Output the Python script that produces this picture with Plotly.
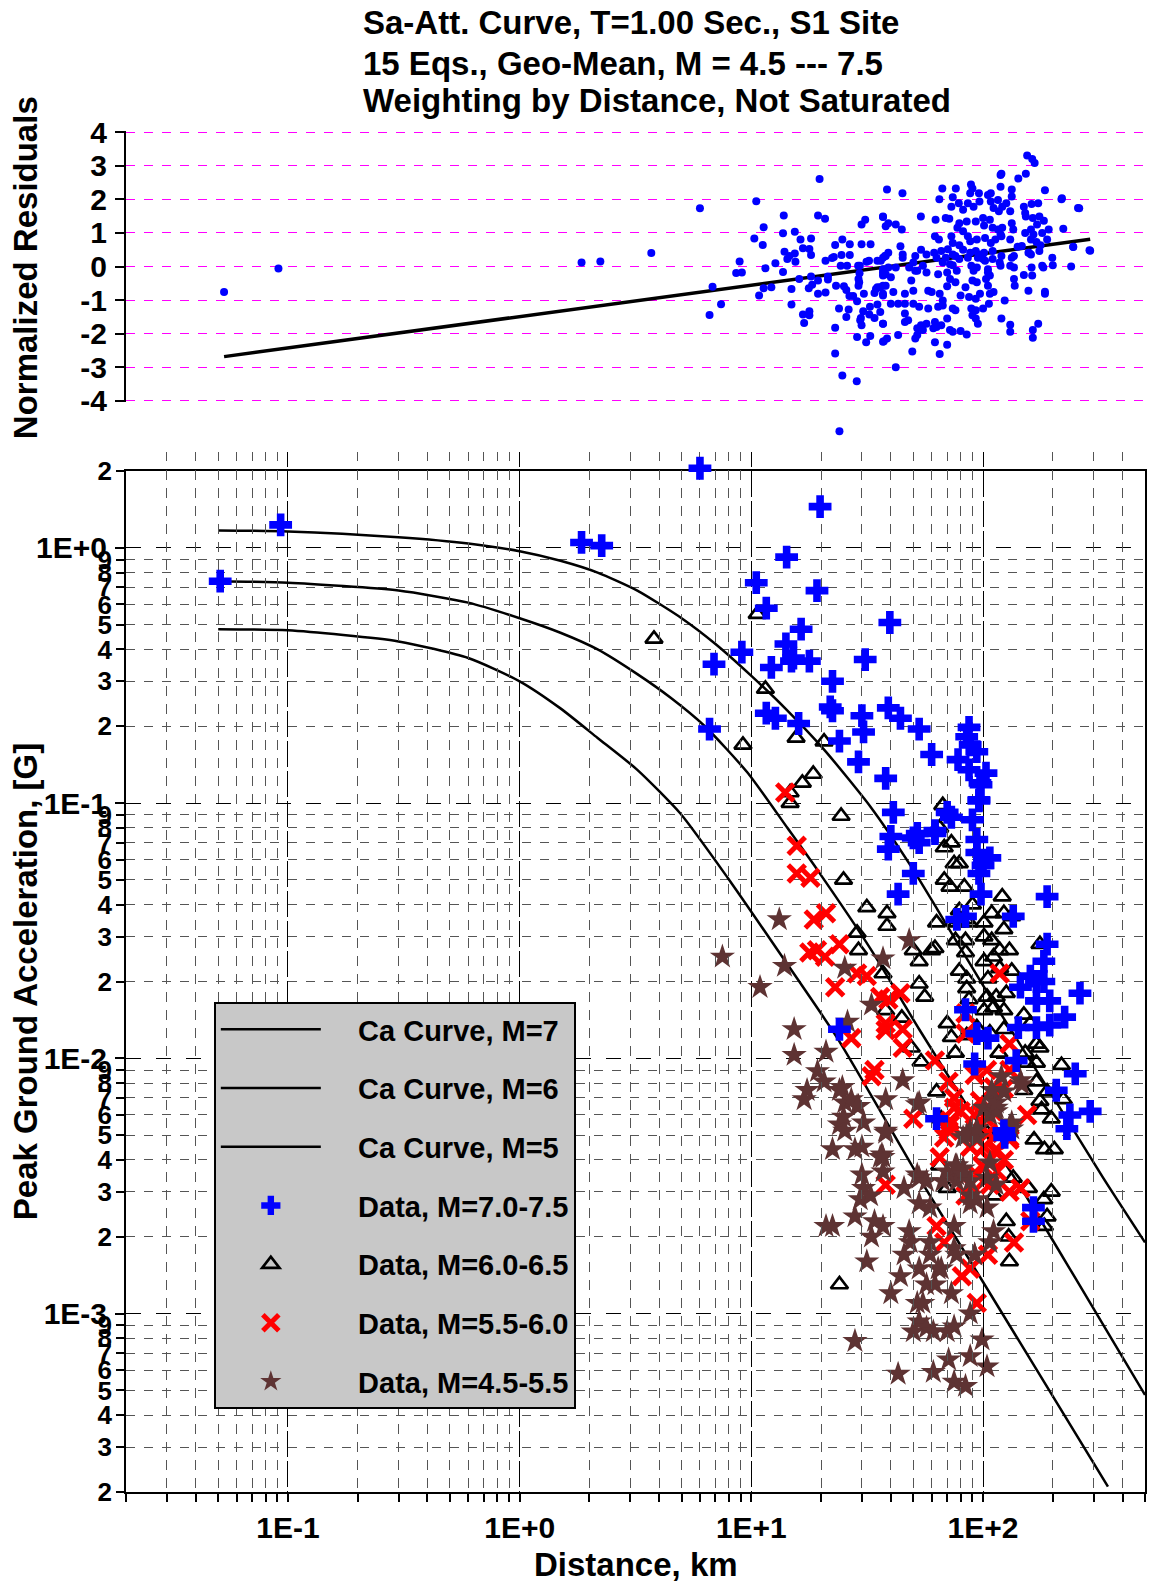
import math
import plotly.graph_objects as go

# ---------------- text ----------------
title_lines = ["Sa-Att. Curve, T=1.00 Sec., S1 Site",
               "15 Eqs., Geo-Mean, M = 4.5 --- 7.5",
               "Weighting by Distance, Not Saturated"]
x_title = "Distance, km"
y_title_top = "Normalized Residuals"
y_title_bottom = "Peak Ground Acceleration, [G]"

legend_names = ["Ca Curve, M=7", "Ca Curve, M=6", "Ca Curve, M=5",
                "Data, M=7.0-7.5", "Data, M=6.0-6.5", "Data, M=5.5-6.0", "Data, M=4.5-5.5"]
LEGEND_PAD = "\u00a0" * 4

# ---------------- tick labels ----------------
x_major_vals = [0.1, 1, 10, 100]
x_major_text = ["1E-1", "1E+0", "1E+1", "1E+2"]
y_major_vals = [1, 0.1, 0.01, 0.001]
y_major_text = ["1E+0", "1E-1", "1E-2", "1E-3"]
digits = [2, 3, 4, 5, 6, 7, 8, 9]
x_minor_vals = [d * 10.0 ** e for e in (-2, -1, 0, 1, 2) for d in digits if d * 10.0 ** e <= 500]
y_minor_vals = [d * 10.0 ** e for e in (-4, -3, -2, -1, 0) for d in digits if 2e-4 <= d * 10.0 ** e <= 2]
y_minor_text = [str(int(round(v / 10.0 ** math.floor(math.log10(v) + 1e-9)))) for v in y_minor_vals]
res_ticks = [4, 3, 2, 1, 0, -1, -2, -3, -4]
res_tick_text = ["4", "3", "2", "1", "0", "-1", "-2", "-3", "-4"]

# ---------------- attenuation curves (distance km, PGA g) ----------------
m7_dist = [0.05, 0.1, 0.3, 0.6, 1.0, 1.5, 2.17, 3.22, 5.0, 7.0, 10, 14, 20.6, 32.6, 48.6, 65, 100, 200, 330, 500]
m7_pga = [1.17, 1.16, 1.10, 1.04, 0.97, 0.89, 0.80, 0.68, 0.53, 0.42, 0.315, 0.235, 0.162, 0.097, 0.057, 0.037,
          0.0193, 0.0071, 0.0034, 0.0019]
m6_dist = [0.05, 0.1, 0.3, 0.6, 1.0, 1.5, 2.17, 3.22, 4.5, 6.3, 9.6, 14.3, 19.2, 33, 53, 100, 140, 250, 500]
m6_pga = [0.74, 0.73, 0.68, 0.61, 0.53, 0.465, 0.40, 0.32, 0.258, 0.200, 0.132, 0.080, 0.055, 0.0265, 0.0130,
          0.0052, 0.0033, 0.00138, 0.00048]
m5_dist = [0.05, 0.1, 0.3, 0.6, 1.0, 1.5, 2.17, 3.22, 4.94, 7.9, 13, 23.5, 53, 100, 346]
m5_pga = [0.48, 0.475, 0.43, 0.37, 0.30, 0.235, 0.18, 0.135, 0.091, 0.051, 0.0265, 0.012, 0.0034, 0.00133,
          0.00021]

# ---------------- data points (distance km, PGA g) ----------------
data_m70_75 = [
    (0.051, 0.74), (0.093, 1.23), (1.85, 1.05), (2.26, 1.02), (6.0, 2.05), (19.8, 1.45), (14.2, 0.92),
    (10.5, 0.73), (19.2, 0.68), (11.6, 0.58), (39.6, 0.51), (16.4, 0.48), (14.1, 0.42), (9.1, 0.39),
    (15.2, 0.37), (17.8, 0.36), (14.9, 0.36), (31, 0.365), (6.9, 0.35), (12.2, 0.34), (22.4, 0.30),
    (21.9, 0.238), (22.4, 0.23), (11.6, 0.225), (12.7, 0.215), (30, 0.22), (39, 0.236), (44, 0.215),
    (16, 0.205), (6.6, 0.195), (53, 0.195), (30.5, 0.19), (24, 0.175), (60, 0.155), (29, 0.145),
    (38, 0.125), (41, 0.092), (40, 0.074), (50, 0.073), (53, 0.07), (39, 0.066), (50, 0.053), (62, 0.078),
    (98, 0.118), (96, 0.102), (73, 0.088), (70, 0.092), (52, 0.076), (62, 0.076), (94, 0.072), (94, 0.064),
    (107, 0.061), (100, 0.057), (96, 0.053), (43, 0.044), (98, 0.044), (189, 0.043), (84, 0.036),
    (77, 0.035), (135, 0.036), (189, 0.028), (183, 0.024), (160, 0.021), (170, 0.020), (145, 0.019),
    (183, 0.020), (262, 0.018), (194, 0.0168), (170, 0.0168), (225, 0.0145), (194, 0.0135), (170, 0.0132),
    (84, 0.0155), (94, 0.0125), (105, 0.012), (142, 0.0132), (24, 0.013), (250, 0.0087), (139, 0.0098),
    (207, 0.0075), (290, 0.0062), (237, 0.006), (230, 0.0053), (63, 0.0058), (123, 0.0052), (92, 0.0095),
    (124, 0.0049), (165, 0.0026), (165, 0.0023),
    (87, 0.198), (85, 0.182), (88, 0.169), (94, 0.159), (78, 0.148), (87, 0.135), (103, 0.131),
    (97, 0.12), (96, 0.103), (90, 0.086)]

data_m60_65 = [
    (3.8, 0.44), (10.6, 0.55), (11.5, 0.28), (9.2, 0.169), (15.6, 0.18), (20.6, 0.174), (18.5, 0.13),
    (16.6, 0.12), (14.7, 0.11), (14.7, 0.1), (24.4, 0.089), (25, 0.05), (62, 0.078),
    (67, 0.098), (65, 0.08), (73, 0.07), (68, 0.067), (75, 0.058), (79, 0.058), (68, 0.05), (72, 0.047),
    (83, 0.047), (31.5, 0.039), (38.5, 0.037), (38.5, 0.033), (63, 0.034), (121, 0.043), (90, 0.04),
    (79, 0.038), (80, 0.035), (84, 0.035), (87, 0.034), (77, 0.034), (109, 0.037), (123, 0.037),
    (133, 0.036), (123, 0.032), (101, 0.034), (28.6, 0.031), (29, 0.0265), (50, 0.0265), (53, 0.024),
    (62, 0.027), (76, 0.029), (84, 0.029), (101, 0.03), (109, 0.029), (84, 0.026), (118, 0.0265),
    (130, 0.0265), (176, 0.028), (101, 0.024), (111, 0.025), (37, 0.0215), (79, 0.022), (85, 0.0205),
    (105, 0.0205), (118, 0.0225), (133, 0.022), (53, 0.0196), (56, 0.0174), (85, 0.0188), (87, 0.017),
    (104, 0.0174), (114, 0.0174), (126, 0.018), (38, 0.0154), (44.6, 0.0144), (70, 0.0137), (101, 0.0154),
    (111, 0.0158), (123, 0.0154), (150, 0.0148), (160, 0.0137), (94, 0.0132), (107, 0.0126), (123, 0.013),
    (85, 0.0123), (73, 0.0121), (49, 0.011), (54, 0.0097), (76, 0.0105), (117, 0.0105), (152, 0.0105),
    (170, 0.0114), (155, 0.0096), (170, 0.0096), (176, 0.011), (218, 0.0094), (170, 0.0081), (189, 0.0074),
    (150, 0.0075), (176, 0.0068), (222, 0.0069), (179, 0.0063), (197, 0.0058), (63, 0.0074), (66, 0.0058),
    (166, 0.0048), (184, 0.0044), (203, 0.0044), (65, 0.0038),
    (104, 0.0051), (135, 0.0034), (157, 0.0031), (197, 0.003), (70, 0.0031), (112, 0.0029), (183, 0.0028),
    (189, 0.0024), (184, 0.0022), (126, 0.0023), (129, 0.002), (130, 0.0016), (24, 0.0013), (60, 0.0265)]

data_m55_60 = [
    (14, 0.11), (15.7, 0.068), (15.7, 0.053), (18, 0.051), (18.6, 0.035), (21, 0.037), (17.8, 0.026),
    (19.2, 0.0265), (20.8, 0.025), (24, 0.028), (23, 0.019), (28.6, 0.0215), (31.5, 0.021), (36, 0.0174),
    (39, 0.017), (44, 0.018), (38, 0.0137), (38, 0.0129), (45, 0.013), (27, 0.012), (45, 0.011), (34, 0.009),
    (33, 0.0085), (50, 0.0058), (62, 0.0098),
    (118, 0.0215), (84, 0.015), (84, 0.0125), (130, 0.0114), (104, 0.009), (92, 0.0086), (130, 0.009),
    (71, 0.0081), (75, 0.007), (111, 0.0077), (123, 0.0076), (155, 0.006), (92, 0.006), (101, 0.0059),
    (72, 0.0057), (71, 0.0052), (94, 0.0052), (105, 0.0051), (130, 0.0049), (101, 0.0045), (114, 0.0044),
    (65, 0.0041), (107, 0.004), (72, 0.0055), (75, 0.0064), (68, 0.0049), (130, 0.0048), (114, 0.0043),
    (123, 0.004), (94, 0.0035), (88, 0.0032), (101, 0.0033), (107, 0.0032), (84, 0.0029), (130, 0.003),
    (145, 0.0031), (38, 0.0032), (63, 0.0022), (68, 0.0019), (105, 0.0017), (88, 0.0015), (81, 0.0014),
    (94, 0.0011), (160, 0.0023), (136, 0.0019), (97, 0.0068), (110, 0.0062), (88, 0.0045), (99, 0.0038),
    (115, 0.0036), (80, 0.0062)]

data_m45_55 = [
    (13.2, 0.035), (7.5, 0.025), (13.9, 0.023), (10.9, 0.019), (15.3, 0.013), (15.3, 0.0103), (21, 0.0106),
    (19.3, 0.0089), (20.6, 0.0081), (17.4, 0.0075), (16.9, 0.0069), (24.7, 0.0077), (25.3, 0.0067),
    (29, 0.0065), (30.5, 0.0056), (24, 0.0055), (25.3, 0.0052), (38, 0.0051), (45, 0.0082), (53, 0.0067),
    (26, 0.0139), (33, 0.0162), (37, 0.0246), (48, 0.029), (22.4, 0.0044), (28, 0.0044), (36.6, 0.0042),
    (37, 0.0036), (30, 0.0035), (52, 0.0035), (25.3, 0.0226),
    (37, 0.0041), (30.5, 0.0031), (29.5, 0.0028), (32.7, 0.0029), (28, 0.0024), (34, 0.0023), (37, 0.0022),
    (22.4, 0.0022), (33, 0.002), (45.6, 0.0031), (53, 0.0034), (57, 0.0033), (77, 0.0035), (82, 0.0037),
    (53, 0.0027), (59, 0.0026), (48, 0.0021), (48.5, 0.0019), (31.5, 0.0016), (45.6, 0.0017), (59, 0.0017),
    (75, 0.0018), (92, 0.0017), (44, 0.0014), (53, 0.0015), (64, 0.0015), (40, 0.0012), (57, 0.0013),
    (62, 0.0013), (52, 0.0011), (55, 0.0011), (73, 0.0012), (88, 0.001), (53, 0.00093), (50, 0.00085),
    (57, 0.00088), (61, 0.00085), (70, 0.00085), (75, 0.00089), (99, 0.00079), (28, 0.00078), (71, 0.00066),
    (88, 0.00068), (104, 0.00062), (43, 0.00058), (61, 0.00059), (75, 0.00054), (84, 0.00052),
    (101, 0.0064), (114, 0.0064), (107, 0.006), (88, 0.0052), (94, 0.0049), (107, 0.0039), (104, 0.0034),
    (67, 0.0033), (77, 0.0033), (88, 0.0029), (59, 0.0019), (94, 0.0028), (114, 0.0032),
    (24, 0.0075), (27, 0.0069), (28.6, 0.0065), (25, 0.0059), (38, 0.0069), (52, 0.0066), (38, 0.0052),
    (30, 0.0045), (36, 0.0041), (111, 0.0069), (114, 0.0062), (130, 0.0054), (82, 0.0049), (76, 0.0038),
    (70, 0.0036), (145, 0.0082), (133, 0.0056), (114, 0.0067), (123, 0.0074), (109, 0.0075), (133, 0.0053),
    (85, 0.005), (94, 0.0053), (77, 0.0038), (82, 0.0035), (88, 0.0033), (88, 0.0027), (104, 0.0026),
    (111, 0.0021), (107, 0.0019), (92, 0.0017), (77, 0.0017), (75, 0.0022), (66, 0.0015), (21, 0.0022),
    (147, 0.0079), (120, 0.0085)]

# ---------------- normalized residuals (distance km, residual) ----------------
residuals = [
    (0.053, -0.76), (0.091, -0.06), (1.85, 0.12), (2.23, 0.15), (3.7, 0.4), (6.0, 1.73), (6.6, -1.44),
    (6.8, -0.6), (7.4, -1.12), (10.5, 1.94), (9.1, -0.18), (24, -4.9),
    (19.7, 2.6), (13.8, 1.52), (19.4, 1.52), (20.8, 1.42), (11.3, 1.17), (10.3, 0.83), (11.2, 0.64),
    (13.7, 0.99), (15.4, 1.03), (16.3, 0.8), (18.1, 0.83), (16.7, 0.54), (17.8, 0.52), (13.9, 0.44),
    (15.4, 0.39), (14.3, 0.22), (14.6, 0.31), (15.5, 0.14), (18.1, 0.34), (12.7, 0.1), (11.5, -0.05),
    (8.9, 0.15), (8.6, -0.19), (13.7, -0.16), (16.1, -0.37), (18.1, -0.30), (19.4, -0.42), (21.4, -0.30),
    (21.4, -0.39), (23, 0.64), (24.7, 0.8), (26.6, 0.66), (29.9, 0.66), (32.7, 0.66), (24.5, 0.34),
    (26.6, 0.34), (22.3, 0.25), (22.7, 0.28), (20.9, 0.17), (24.3, 0.02), (25.9, 0.02), (28.9, 0.02),
    (29.4, 0.02), (31.4, 0.14), (32.2, 0.17), (36.2, 0.17), (37.7, 0.31), (37, 1.47), (29.9, 1.25),
    (31, 1.39), (10.8, -0.86), (11.3, -0.65), (12.2, -0.62), (14.9, -0.67), (14.9, -1.13),
    (17.7, -0.65), (18.3, -0.54), (19.4, -0.81), (20.9, -0.77), (16.7, -1.43), (17.8, -1.33), (17.8, -1.45),
    (16.9, -1.68), (23, -1.82), (23, -2.59), (24.7, -3.24), (28.5, -3.41), (23.2, -0.57), (25.1, -0.59),
    (25.7, -0.7), (23.9, -1.25), (25.7, -1.5), (26.3, -1.28), (26.5, -0.88), (27.5, -0.88), (28.6, -1.03),
    (29, -0.37), (29.2, -0.47), (29, -0.57), (29.3, -0.2), (30.6, -0.81), (30.4, -1.33), (29.7, -1.53),
    (29.5, -1.6), (29.9, -1.75), (28.6, -2.1), (31.3, -2.25), (32.6, -2.07), (32.3, -1.43), (32.5, -1.2),
    (34, -1.53), (34, -0.79), (35, -1.13), (34.5, -0.67), (36, -0.62), (37, -1.7), (37.3, -2.22), (37, -0.18),
    (155, 3.3), (163, 3.2), (167, 3.08), (119, 2.72), (120, 2.76), (153, 2.76), (142, 2.62), (38.5, 2.29),
    (44.9, 2.18), (66.7, 2.32), (76.3, 2.32), (88.7, 2.44), (90, 2.32), (88, 2.18), (96, 2.18), (108, 2.18),
    (105, 2.13), (119, 2.37), (133, 2.29), (133, 2.08), (116, 1.98), (126, 1.88), (185, 2.27), (219, 2.03),
    (257, 1.74), (64.8, 2.0), (74, 2.06), (73, 1.78), (78.6, 1.88), (86, 1.88), (82, 1.69), (91, 1.78),
    (96.5, 1.93), (108, 1.93), (111, 1.74), (117, 1.64), (121, 1.78), (131, 1.64), (150, 1.78), (162, 1.86),
    (173, 1.88), (152, 1.59), (164, 1.44), (175, 1.49), (183, 1.36), (53.9, 1.49), (62.4, 1.39), (69, 1.44),
    (71.5, 1.42), (79, 1.29), (85, 1.34), (77.5, 1.15), (82, 1.05), (93, 1.34), (100, 1.44), (107, 1.39),
    (101, 1.22), (110, 1.15), (116, 1.1), (121, 1.15), (119, 0.95), (133, 1.29), (135, 1.1), (153, 1.49),
    (161, 1.1), (165, 0.95), (171, 1.25), (180, 1.0), (192, 1.1), (222, 1.12), (37, 1.49), (38, 1.2),
    (39, 1.29), (42, 1.25), (44.6, 1.1), (62, 0.9), (64.5, 0.8), (73, 0.9), (86, 0.9), (74, 0.7), (79, 0.63),
    (88, 0.75), (94, 0.8), (102, 0.85), (108, 0.7), (113, 0.8), (120, 0.9), (131, 0.8), (152, 1.0),
    (161, 0.8), (170, 0.73), (177, 0.63), (189, 0.8), (245, 0.59), (44, 0.6), (54, 0.5), (61.5, 0.41),
    (66, 0.46), (70.5, 0.51), (74, 0.36), (82, 0.5), (88, 0.41), (93, 0.46), (96, 0.36), (101, 0.41),
    (110, 0.46), (110, 0.22), (120, 0.31), (141, 0.59), (147, 0.61), (158, 0.41), (161, 0.36), (175, 0.46),
    (39, 0.41), (37, 0.26), (35, 0.17), (38, 0.31), (45, 0.36), (45, 0.26), (51, 0.31), (57, 0.36),
    (63, 0.26), (69, 0.26), (76, 0.31), (79, 0.22), (86, 0.26), (95, 0.26), (100, 0.22), (102, 0.17),
    (136, 0.31), (157, 0.41), (199, 0.26), (180, 0.02), (182, -0.03), (200, 0.04), (240, 0.0), (288, 0.48),
    (50, 0.12), (55, 0.02), (52, -0.13), (67, 0.12), (72, 0.07), (74, 0.04), (89, 0.02), (94, -0.03),
    (105, -0.08), (107, -0.27), (118, 0.12), (119, 0.02), (131, 0.02), (133, 0.26), (136, -0.03),
    (162, -0.03), (37, -0.08), (39, -0.03), (42, -0.03), (48, -0.03), (51, -0.13), (57, -0.18), (37, -0.27),
    (38, -0.23), (40, -0.32), (49, -0.42), (64, -0.23), (70, -0.18), (77, -0.13), (91, -0.13), (72, -0.37),
    (76, -0.47), (84, -0.62), (90, -0.42), (94, -0.47), (103, -0.37), (105, -0.18), (105, -0.57),
    (136, -0.37), (137, -0.57), (150, -0.25), (163, -0.27), (35, -0.62), (37, -0.57), (38, -0.57),
    (37, -0.81), (37, -0.86), (41, -0.76), (46, -0.81), (50, -0.72), (58, -0.72), (60, -0.76), (65, -0.81),
    (70, -0.59), (80, -0.86), (87, -0.91), (93, -0.96), (97, -0.81), (107, -0.81), (111, -0.76),
    (124, -1.01), (157, -0.72), (185, -0.75), (185, -0.81), (40, -1.11), (43, -1.11), (46, -1.11),
    (50, -1.11), (53, -1.2), (58, -1.25), (64, -1.2), (67, -1.01), (67, -1.16), (74, -1.25), (76, -1.3),
    (89, -1.25), (93, -1.3), (100, -1.25), (106, -1.11), (36, -1.35), (37, -1.7), (46, -1.4), (46, -1.65),
    (47.5, -1.6), (54, -1.75), (57, -1.7), (62, -1.65), (52, -1.84), (55, -1.89), (61, -1.84), (63, -1.8),
    (66, -1.75), (70, -1.55), (72, -1.89), (74, -1.94), (80, -1.92), (85, -2.02), (90, -1.45), (93, -1.55),
    (95, -1.7), (120, -1.55), (131, -1.73), (131, -1.94), (164, -1.89), (164, -2.12), (173, -1.7),
    (37, -2.24), (38.5, -2.14), (43, -2.04), (51, -2.14), (52, -2.04), (62, -2.25), (70, -2.33),
    (49.5, -2.53), (65, -2.6), (42, -3.0), (260, 1.73), (290, 0.47), (218, 2.0), (245, 0.58)]

trend_dist = [0.053, 290]
trend_res = [-2.68, 0.81]

# ---------------- styling ----------------
FONT = "Liberation Sans, Arial, sans-serif"
BLUE = "#0000ff"
RED = "#ff0000"
BROWN = "#5e3333"
W, H = 1155, 1584
ML, MR, MT, MB = 126, 8, 131, 92
PW, PH = W - ML - MR, H - MT - MB
BOT_TOP_PX, RES_BOT_PX = 471, 402


def px_x(p):
    return (p - ML) / PW


def px_y(p):
    return (H - MB - p) / PH


def split(pairs):
    return [p[0] for p in pairs], [p[1] for p in pairs]


xr = [math.log10(0.02), math.log10(500)]
yr = [math.log10(2e-4), math.log10(2)]
res_r = [-4.03, 4.03]
# helper axes with the same scale but a taller domain, so points just outside
# the frame (as in the reference) stay visible
decade_px = (H - MB - BOT_TOP_PX) / (yr[1] - yr[0])
yr_ext = [yr[0], yr[1] + (BOT_TOP_PX - 452) / decade_px]
unit_px = (RES_BOT_PX - MT) / (res_r[1] - res_r[0])
res_ext = [res_r[0] - (448 - RES_BOT_PX) / unit_px, res_r[1]]

fig = go.Figure()

for name, d, v in [(legend_names[0], m7_dist, m7_pga),
                   (legend_names[1], m6_dist, m6_pga),
                   (legend_names[2], m5_dist, m5_pga)]:
    fig.add_trace(go.Scatter(x=d, y=v, mode="lines", name=LEGEND_PAD + name, legendgroup=name,
                             line=dict(color="black", width=2.5, shape="spline", smoothing=0.6),
                             xaxis="x", yaxis="y"))

marker_specs = [
    (legend_names[3], data_m70_75, dict(symbol="cross", size=19, color=BLUE, line=dict(width=0)), "y5"),
    (legend_names[4], data_m60_65, dict(symbol="triangle-up-open", size=15, color="black",
                                        line=dict(width=2.7, color="black")), "y"),
    (legend_names[5], data_m55_60, dict(symbol="x-thin-open", size=17, color=RED,
                                        line=dict(width=5, color=RED)), "y"),
    (legend_names[6], data_m45_55, dict(symbol="star", size=19, color=BROWN, line=dict(width=0)), "y"),
]
for name, pairs, mk, yax in marker_specs:
    d, v = split(pairs)
    fig.add_trace(go.Scatter(x=d, y=v, mode="markers", name=LEGEND_PAD + name, legendgroup=name,
                             marker=mk, cliponaxis=False, xaxis="x", yaxis=yax))

rd, rv = split(residuals)
fig.add_trace(go.Scatter(x=rd, y=rv, mode="markers", showlegend=False, cliponaxis=False,
                         marker=dict(color=BLUE, size=8), xaxis="x2", yaxis="y4"))
fig.add_trace(go.Scatter(x=trend_dist, y=trend_res, mode="lines", showlegend=False,
                         line=dict(color="black", width=3.5), xaxis="x2", yaxis="y2"))
# empty trace so the digit-label overlay axis is rendered
fig.add_trace(go.Scatter(x=[], y=[], showlegend=False, xaxis="x", yaxis="y3"))

bold = dict(family=FONT, color="black", weight="bold")

fig.update_layout(
    width=W, height=H,
    margin=dict(l=ML, r=MR, t=MT, b=MB, pad=0),
    paper_bgcolor="white", plot_bgcolor="rgba(0,0,0,0)",
    font=dict(family=FONT, color="black"),
    showlegend=True,
    legend=dict(x=px_x(214), y=px_y(1002), xanchor="left", yanchor="top",
                bgcolor="#c8c8c8", bordercolor="black", borderwidth=2,
                font=dict(size=29, **bold), itemwidth=100, tracegroupgap=18,
                itemsizing="trace"),
    xaxis=dict(type="log", range=xr, domain=[0, 1], anchor="y",
               tickvals=x_major_vals, ticktext=x_major_text, tickfont=dict(size=30, **bold),
               ticks="outside", ticklen=8, tickwidth=1.5, tickcolor="black", ticklabelstandoff=0,
               showline=True, linecolor="black", linewidth=2, mirror=True,
               showgrid=True, gridcolor="black", gridwidth=1, griddash="longdash", zeroline=False,
               minor=dict(tickvals=x_minor_vals, ticks="outside", ticklen=8, tickwidth=1.5, tickcolor="black",
                          showgrid=True, gridcolor="#555555", gridwidth=1, griddash="dash")),
    xaxis2=dict(type="log", range=xr, domain=[0, 1], anchor="y2", matches="x", visible=False),
    yaxis=dict(type="log", range=yr, domain=[0, px_y(BOT_TOP_PX)], anchor="x",
               tickvals=y_major_vals, ticktext=y_major_text, tickfont=dict(size=30, **bold),
               ticks="outside", ticklen=9, tickwidth=1.5, tickcolor="black", ticklabelstandoff=2,
               showline=True, linecolor="black", linewidth=2, mirror=True,
               showgrid=True, gridcolor="black", gridwidth=1, griddash="longdash", zeroline=False,
               minor=dict(tickvals=y_minor_vals, ticks="outside", ticklen=8, tickwidth=1.5, tickcolor="black",
                          showgrid=True, gridcolor="#555555", gridwidth=1, griddash="dash")),
    yaxis3=dict(type="log", range=yr, overlaying="y", matches="y", anchor="x", side="left",
                tickvals=y_minor_vals, ticktext=y_minor_text, tickfont=dict(size=26, **bold),
                ticks="", showgrid=False, showline=False, zeroline=False, ticklabelstandoff=13),
    yaxis5=dict(type="log", range=yr_ext, domain=[0, px_y(452)], anchor="x", visible=False),
    yaxis2=dict(range=res_r, domain=[px_y(RES_BOT_PX), 1], anchor="x2",
                tickvals=res_ticks, ticktext=res_tick_text, tickfont=dict(size=30, **bold),
                ticks="outside", ticklen=9, tickwidth=2, tickcolor="black",
                showline=True, linecolor="black", linewidth=2, ticklabelstandoff=2,
                showgrid=True, gridcolor="#ff00ff", gridwidth=1, griddash="dash", zeroline=False),
    yaxis4=dict(range=res_ext, domain=[px_y(448), 1], anchor="x2", visible=False),
)

annotations = []
for text, py in zip(title_lines, [22, 63, 101]):
    annotations.append(dict(text=text, x=px_x(361), y=px_y(py), xref="paper", yref="paper",
                            xanchor="left", yanchor="middle", showarrow=False,
                            font=dict(size=33, **bold)))
annotations.append(dict(text=y_title_top, x=px_x(25), y=px_y(268), xref="paper", yref="paper",
                        textangle=-90, xanchor="center", yanchor="middle", showarrow=False,
                        font=dict(size=33, **bold)))
annotations.append(dict(text=y_title_bottom, x=px_x(25), y=px_y(982), xref="paper", yref="paper",
                        textangle=-90, xanchor="center", yanchor="middle", showarrow=False,
                        font=dict(size=33, **bold)))
annotations.append(dict(text=x_title, x=px_x(637), y=px_y(1564), xref="paper", yref="paper",
                        xanchor="center", yanchor="middle", showarrow=False,
                        font=dict(size=33, **bold)))
fig.update_layout(annotations=annotations)

fig.write_html("out.html")
